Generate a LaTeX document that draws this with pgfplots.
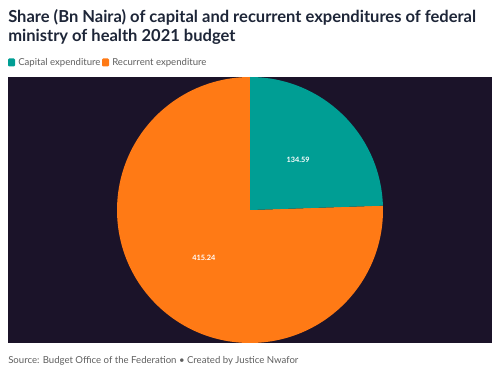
\documentclass[border=0pt]{standalone}
\usepackage{fontspec}
\setmainfont{Lato}
\usepackage{pgfplots}
\pgfplotsset{compat=1.18}
\usepackage{pgfplotstable}
\definecolor{capc}{HTML}{009E94}
\definecolor{recc}{HTML}{FF7A15}
\definecolor{bgc}{HTML}{1B1329}
\definecolor{titc}{HTML}{1E2638}
\definecolor{grayc}{HTML}{5E5E5E}
\pgfplotstableread{
name value
Capital 134.59
Recurrent 415.24
}\budget
\begin{document}
\begin{tikzpicture}
\pgfplotstablegetelem{0}{value}\of\budget \let\vcap\pgfplotsretval
\pgfplotstablegetelem{1}{value}\of\budget \let\vrec\pgfplotsretval
\pgfmathsetmacro\fcap{\vcap/(\vcap+\vrec)}
\pgfmathsetmacro\acap{360*\fcap}
\pgfmathsetmacro\mcap{90-\acap/2}
\pgfmathsetmacro\mrec{90-\acap-(360-\acap)/2}
\begin{axis}[at={(0,0)},anchor=south west, scale only axis, width=363pt, height=199.5pt,
  xmin=-1.8195,xmax=1.8195,ymin=-1,ymax=1,
  axis background/.style={fill=bgc}, axis line style={draw=none}, ticks=none, clip=false]
\fill[recc] (axis cs:0,0) -- (axis cs:{cos(90-\acap)},{sin(90-\acap)}) arc[start angle=90-\acap, end angle=-270, radius=99.75pt] -- cycle;
\fill[capc] (axis cs:0,0) -- (axis cs:0,1) arc[start angle=90, end angle=90-\acap, radius=99.75pt] -- cycle;
\node[text=white, font=\bfseries\fontsize{5.5}{6}\selectfont] at (axis cs:{0.52*cos(\mcap)},{0.52*sin(\mcap)}) {\vcap};
\node[text=white, font=\bfseries\fontsize{5.5}{6}\selectfont] at (axis cs:{0.5*cos(\mrec)},{0.5*sin(\mrec)}) {\vrec};
\end{axis}
\begin{scope}[x=0.75pt,y=-0.75pt,shift={(-8,-343)}]
\path (0,0) rectangle (500,389);
\node[anchor=base west, inner sep=0, text=titc, font=\bfseries\fontsize{12.4}{14}\selectfont] at (8,23) {Share (Bn Naira) of capital and recurrent expenditures of federal};
\node[anchor=base west, inner sep=0, text=titc, font=\bfseries\fontsize{12.4}{14}\selectfont] at (8,41.5) {ministry of health 2021 budget};
\fill[capc, rounded corners=0.8pt] (8,58.5) rectangle (15,66.5);
\node[anchor=base west, inner sep=0, text=grayc, font=\fontsize{7.2}{8}\selectfont] at (18,65.7) {Capital expenditure};
\fill[recc, rounded corners=0.8pt] (102,58.5) rectangle (109,66.5);
\node[anchor=base west, inner sep=0, text=grayc, font=\fontsize{7.2}{8}\selectfont] at (112,65.7) {Recurrent expenditure};
\node[anchor=base west, inner sep=0, text=grayc, font=\fontsize{7.2}{8}\selectfont] at (8,363.3) {Source: Budget Office of the Federation • Created by Justice Nwafor};
\end{scope}
\end{tikzpicture}
\end{document}
